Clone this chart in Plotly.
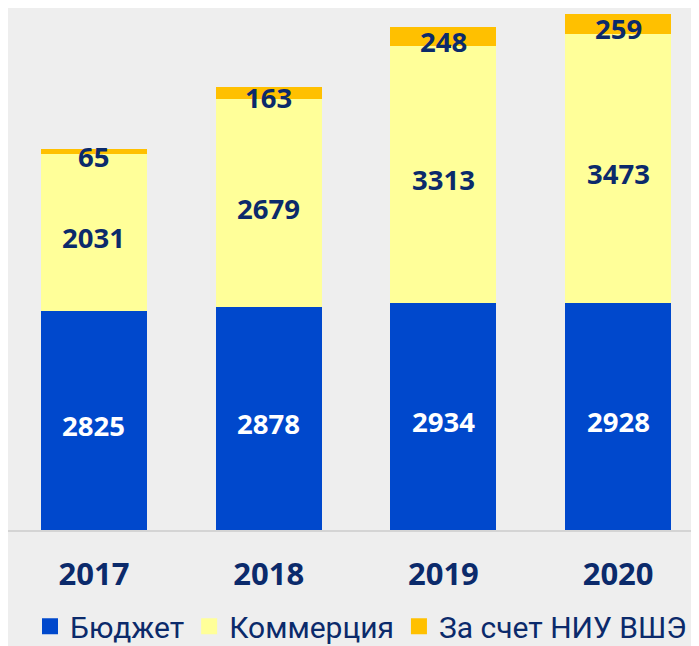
import plotly.graph_objects as go

years = ["2017", "2018", "2019", "2020"]
budget = [2825, 2878, 2934, 2928]
commerce = [2031, 2679, 3313, 3473]
hse = [65, 163, 248, 259]

names = ["Бюджет", "Коммерция", "За счет НИУ ВШЭ"]
colors = ["#0048CC", "#FFFF99", "#FFC000"]
text_colors = ["#FFFFFF", "#0B2A6B", "#0B2A6B"]

NAVY = "#0B2A6B"
LABEL_FONT = "Open Sans"
LEGEND_FONT = "Roboto"

fig = go.Figure()
series = [budget, commerce, hse]
bases = [[0] * 4, budget, [b + c for b, c in zip(budget, commerce)]]
for s, base, name, col in zip(series, bases, names, colors):
    fig.add_trace(go.Bar(x=years, y=s, name=name, marker=dict(color=col, line=dict(width=0)),
                         width=0.607, hoverinfo="skip", showlegend=False))
for s, base, tc in zip(series, bases, text_colors):
    for i, (b, v) in enumerate(zip(base, s)):
        fig.add_annotation(x=i, y=b + v / 2, xref="x", yref="y", text=str(v), showarrow=False,
                           xanchor="center", yanchor="middle", yshift=-5,
                           font=dict(family=LABEL_FONT, size=27.5, color=tc, weight="bold"))
# legend entries with larger square swatches
for name, col in zip(names, colors):
    fig.add_trace(go.Scatter(x=[None], y=[None], mode="markers", name=name,
                             marker=dict(symbol="square", size=18, color=col)))

fig.update_layout(
    barmode="stack",
    width=699, height=646,
    margin=dict(l=0, r=8, t=0, b=124, autoexpand=False),
    paper_bgcolor="#EEEEEE", plot_bgcolor="#EEEEEE",
    xaxis=dict(type="category", range=[-0.492, 3.463], showgrid=False, showline=True,
               linecolor="#D4D4D4", linewidth=1.5,
               ticks="", ticklabelstandoff=16, automargin=False,
               tickfont=dict(family=LABEL_FONT, size=31, color=NAVY, weight="bold")),
    yaxis=dict(range=[0, 6735], visible=False, showgrid=False, automargin=False),
    legend=dict(orientation="h", yref="container", y=0.043, yanchor="middle",
                x=22 / 691, xanchor="left",
                font=dict(family=LEGEND_FONT, size=30, color=NAVY), bgcolor="rgba(0,0,0,0)",
                traceorder="normal", itemwidth=30),
    showlegend=True,
)
fig.write_html("out.html")
